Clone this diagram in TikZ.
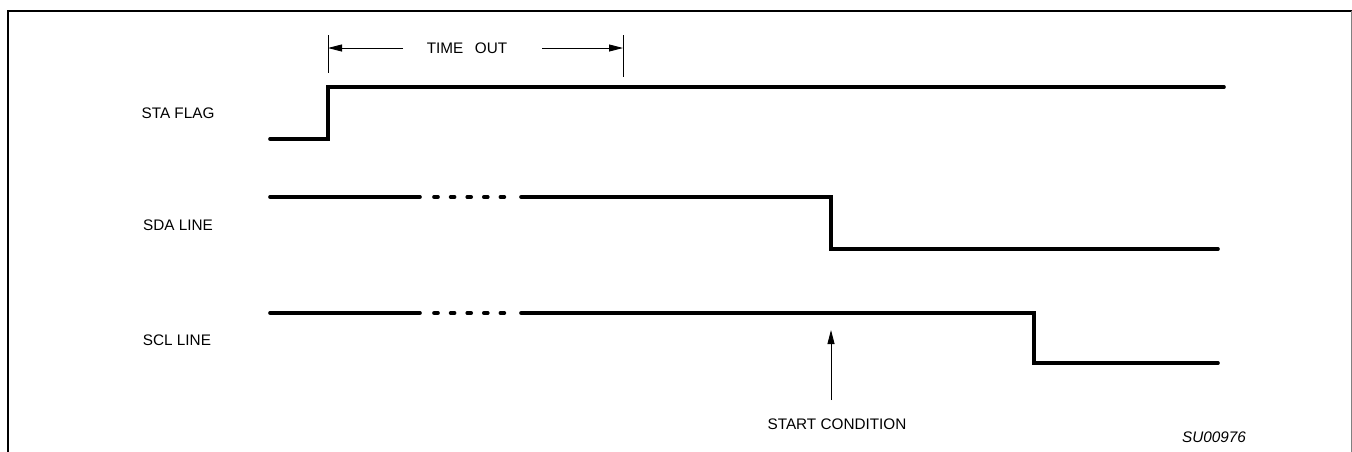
\documentclass[tikz,border=0pt]{standalone}
\usepackage{fontspec}
\setmainfont{Liberation Sans}
\usetikzlibrary{arrows.meta}
\begin{document}
\begin{tikzpicture}[x=1pt,y=-1pt,
  sig/.style={line width=3.6pt,line join=miter,line cap=round},
  dots/.style={line width=3.6pt,line cap=round,dash pattern=on 4pt off 12.6pt},
  thin/.style={line width=0.9pt},
  arr/.style={thin,-{Triangle[length=14pt,width=7pt]}},
  lbl/.style={font=\fontsize{15.3}{18}\selectfont,inner sep=0pt,anchor=center}]
\useasboundingbox (0,0) rectangle (1352,451);
% frame
\draw[line width=2pt] (8,452) -- (8,10.5) -- (1353,10.5);
\draw[line width=1pt,gray] (1351,10.5) -- (1351,452);
% labels
\node[lbl] (sta) at (178,113) {STA FLAG};
\node[lbl] (sda) at (178,225) {SDA LINE};
\node[lbl] (scl) at (177,340) {SCL LINE};
% STA FLAG
\draw[sig] (270,139) -- (328,139) -- (328,87) -- (1224,87);
% time out
\coordinate (t1) at (328,35);
\coordinate (t1b) at (328,73);
\coordinate (t2) at (623,35);
\coordinate (t2b) at (623,77);
\draw[thin] (t1) -- (t1b);
\draw[thin] (t2) -- (t2b);
\node[lbl] (to) at (467,48) {TIME\hspace{0.75em}OUT};
\coordinate (al) at (403,48);
\coordinate (ar) at (542,48);
\draw[arr] (al) -- (328,48);
\draw[arr] (ar) -- (623,48);
% SDA
\draw[sig] (270,197) -- (420,197);
\draw[dots] (434,197) -- (510,197);
\draw[sig] (521,197) -- (831,197) -- (831,249) -- (1218,249);
% SCL
\draw[sig] (270,313) -- (420,313);
\draw[dots] (434,313) -- (510,313);
\draw[sig] (521,313) -- (1034,313) -- (1034,363) -- (1218,363);
% start condition
\node[lbl] (sc) at (837,424) {START CONDITION};
\coordinate (sctip) at (831,330);
\draw[arr] (831,400) -- (sctip);
\node[lbl,font=\fontsize{15.3}{18}\selectfont\itshape] (id) at (1214,437) {SU00976};
\end{tikzpicture}
\end{document}
